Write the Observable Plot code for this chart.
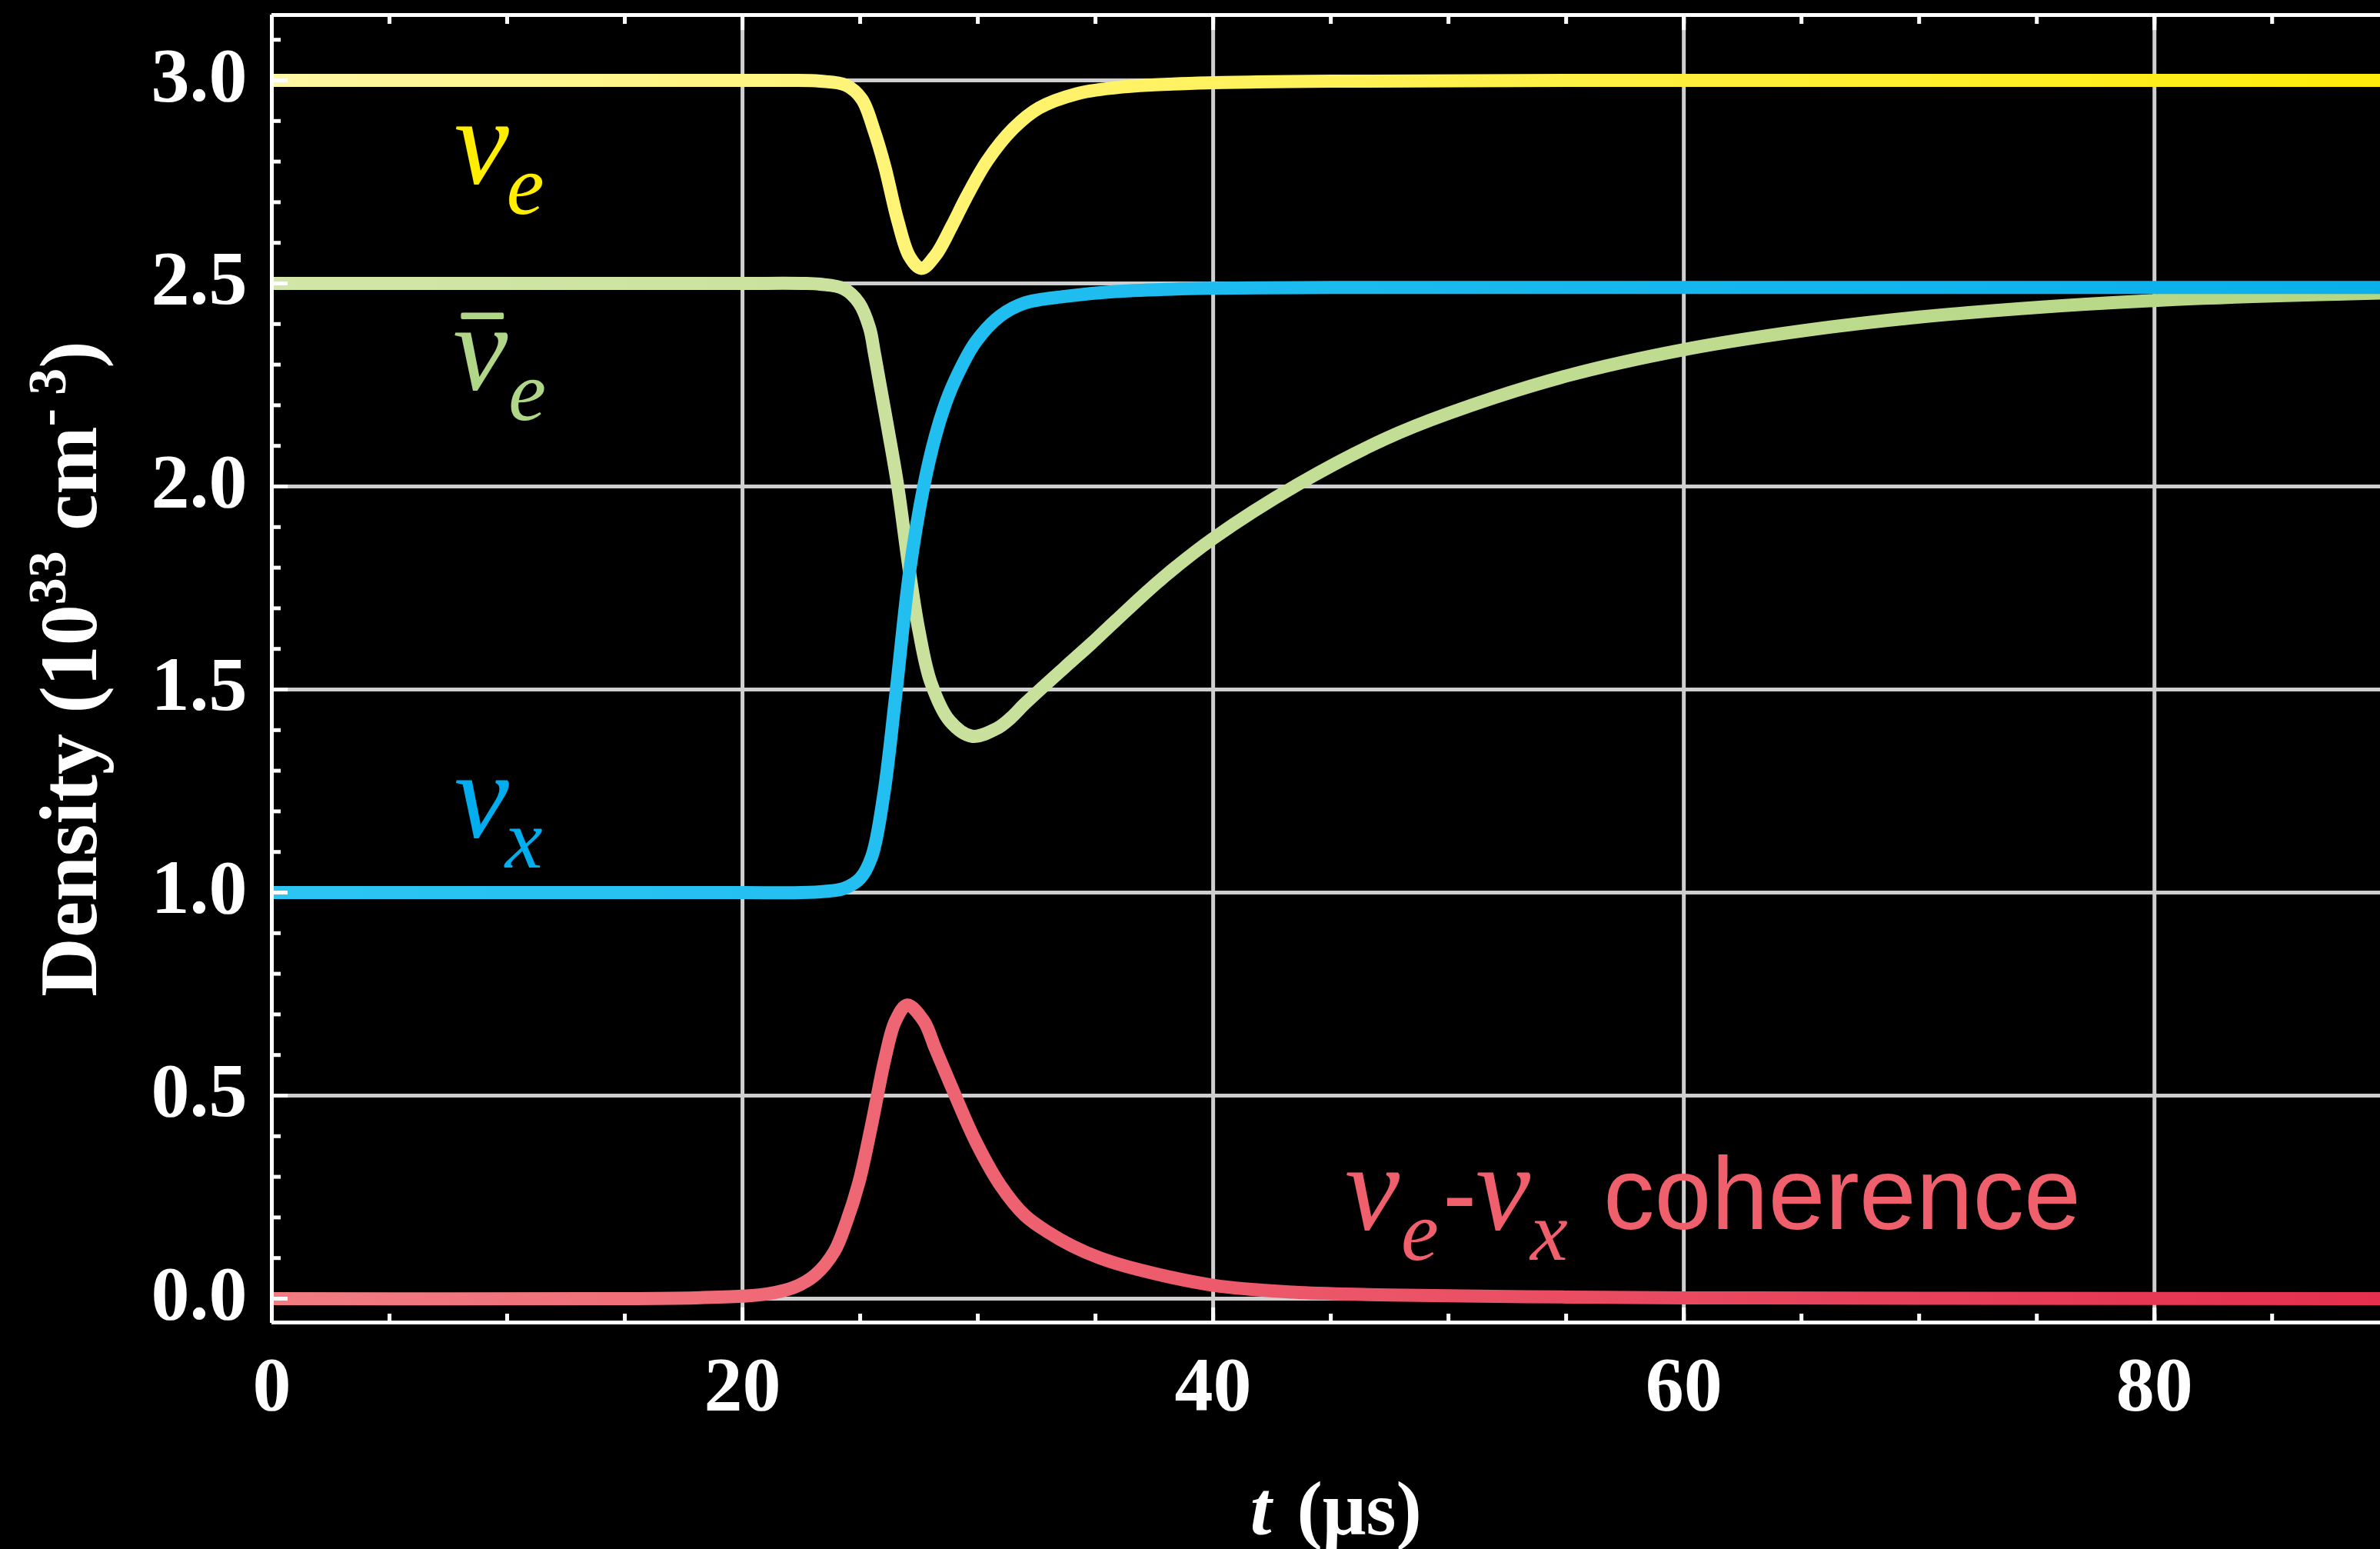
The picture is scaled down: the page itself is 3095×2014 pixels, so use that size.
<!DOCTYPE html>
<html>
<head>
<meta charset="utf-8">
<script src="https://cdn.jsdelivr.net/npm/d3@7"></script>
<script src="https://cdn.jsdelivr.net/npm/@observablehq/plot@0.6"></script>
<style>
  html, body { margin: 0; padding: 0; background: #000; overflow: hidden; }
</style>
</head>
<body>
<div id="chart"></div>
<script>
// ---- data ----
const tNuE = [0, 15, 20, 22, 23.3, 24.4, 25.07, 25.6, 26.05, 26.6, 27.1, 27.6, 28.2, 28.9, 29.5, 30.4, 31.5, 32.6, 34.2, 35.85, 37.5, 39.8, 45, 55, 70, 90];
const nuE  = [3.0, 3.0, 3.0, 3.0, 2.998, 2.988, 2.954, 2.875, 2.787, 2.654, 2.566, 2.537, 2.569, 2.642, 2.711, 2.802, 2.881, 2.932, 2.967, 2.982, 2.989, 2.994, 2.998, 3.0, 3.0, 3.0];

const tNuEbar = [0, 15, 20, 22.5, 23.3, 24.3, 24.95, 25.4, 25.6, 25.8, 26.2, 26.6, 27.1, 27.5, 28.0, 28.8, 29.75, 30.8, 31.4, 32.0, 33.7, 34.8, 35.85, 37.8, 40, 43.6, 47.3, 50, 55, 60, 65, 70, 75, 80, 85, 90];
const nuEbar  = [2.5, 2.5, 2.5, 2.5, 2.498, 2.487, 2.452, 2.39, 2.33, 2.265, 2.136, 2.0, 1.789, 1.644, 1.518, 1.423, 1.385, 1.404, 1.430, 1.465, 1.555, 1.612, 1.669, 1.772, 1.872, 2.005, 2.117, 2.18, 2.272, 2.337, 2.383, 2.417, 2.441, 2.458, 2.469, 2.477];

const tNuX = [0, 15, 20, 22.5, 23.5, 24.3, 25.0, 25.5, 26.0, 26.5, 27.1, 27.7, 28.2, 28.6, 29.0, 29.9, 30.95, 32.0, 33.7, 35.85, 39.8, 45, 55, 70, 90];
const nuX  = [1.0, 1.0, 1.0, 1.0, 1.003, 1.01, 1.035, 1.09, 1.24, 1.48, 1.79, 2.0, 2.125, 2.2, 2.258, 2.355, 2.42, 2.452, 2.468, 2.48, 2.488, 2.49, 2.49, 2.49, 2.49];

const tCoh = [0, 15, 18, 20, 21.1, 22.2, 23.1, 23.9, 24.4, 24.95, 25.5, 26.05, 26.5, 27.0, 27.7, 28.2, 28.8, 29.9, 30.95, 32.0, 33.0, 34.0, 35.2, 36.8, 40, 43.4, 46.6, 50, 55, 60, 70, 90];
const coh  = [0, 0, 0.002, 0.006, 0.012, 0.028, 0.059, 0.116, 0.186, 0.287, 0.432, 0.590, 0.684, 0.723, 0.684, 0.615, 0.533, 0.388, 0.280, 0.205, 0.163, 0.130, 0.100, 0.072, 0.033, 0.016, 0.010, 0.007, 0.004, 0.002, 0.001, 0];

const xTickLabels = [0, 20, 40, 60, 80];
const xGridLines  = [20, 40, 60, 80];
const xMinorTicks = [0, 5, 10, 15, 20, 25, 30, 35, 40, 45, 50, 55, 60, 65, 70, 75, 80, 85];
const yTickLabels = [0, 0.5, 1.0, 1.5, 2.0, 2.5, 3.0];
const yMinorTicks = [0, 0.1, 0.2, 0.3, 0.4, 0.5, 0.6, 0.7, 0.8, 0.9, 1.0, 1.1, 1.2, 1.3, 1.4, 1.5, 1.6, 1.7, 1.8, 1.9, 2.0, 2.1, 2.2, 2.3, 2.4, 2.5, 2.6, 2.7, 2.8, 2.9, 3.0, 3.1];

const xDomain = [0, 89.6];
const yDomain = [-0.0587, 3.161];

// ---- tables ----
const rows = (ts, vs) => ts.map((t, i) => ({t, v: vs[i]}));
const dNuE = rows(tNuE, nuE);
const dNuEbar = rows(tNuEbar, nuEbar);
const dNuX = rows(tNuX, nuX);
const dCoh = rows(tCoh, coh);

const serif = "Liberation Serif";
const sans = "Liberation Sans";
const lineW = 17;
const curve = "catmull-rom";
const gridStyle = {stroke: "#cfcfcf", strokeWidth: 5, strokeOpacity: 1};
const tickStyle = {stroke: "white", strokeWidth: 5, fill: "none", strokeLinecap: "butt"};

const one = [0];
const lbl = (x, y, text, opts) => Plot.text(one, {x: () => x, y: () => y, text: () => text, textAnchor: "start", lineAnchor: "bottom", ...opts});

const nuBig = {fontFamily: serif, fontStyle: "italic", fontWeight: "normal", fontSize: 160};
const subSm = {fontFamily: serif, fontStyle: "italic", fontWeight: "normal", fontSize: 110, dy: 40};
const sansLbl = {fontFamily: sans, fontStyle: "normal", fontWeight: "normal", fontSize: 133};

const cY = "#ffee00", cG = "#b0d688", cB = "#00aeef", cR = "#ef5f6c";

const chart = Plot.plot({
  width: 3095,
  height: 2014,
  marginLeft: 353,
  marginRight: 0,
  marginTop: 19,
  marginBottom: 295,
  style: {background: "black", color: "white", fontFamily: serif, fontSize: "100px", fontWeight: "bold", overflow: "visible"},
  x: {domain: xDomain},
  y: {domain: yDomain},
  marks: [
    // grid
    Plot.ruleX(xGridLines, gridStyle),
    Plot.ruleY(yTickLabels, gridStyle),
    // curves
    Plot.line(dNuEbar, {x: "t", y: "v", curve, stroke: "url(#gG)", strokeWidth: lineW, clip: true}),
    Plot.line(dNuX, {x: "t", y: "v", curve, stroke: "url(#gB)", strokeWidth: lineW, clip: true}),
    Plot.line(dNuE, {x: "t", y: "v", curve, stroke: "url(#gY)", strokeWidth: lineW, clip: true}),
    Plot.line(dCoh, {x: "t", y: "v", curve, stroke: "url(#gR)", strokeWidth: lineW, clip: true}),
    // inward ticks
    Plot.axisX(xMinorTicks, {anchor: "top", frameAnchor: "bottom", tickSize: 12, ...tickStyle}),
    Plot.axisX(xMinorTicks, {anchor: "bottom", frameAnchor: "top", tickSize: 12, ...tickStyle}),
    Plot.axisX(xTickLabels, {anchor: "top", frameAnchor: "bottom", tickSize: 20, ...tickStyle}),
    Plot.axisX(xTickLabels, {anchor: "bottom", frameAnchor: "top", tickSize: 20, ...tickStyle}),
    Plot.axisY(yMinorTicks, {anchor: "right", frameAnchor: "left", tickSize: 11, ...tickStyle}),
    Plot.axisY(yTickLabels, {anchor: "right", frameAnchor: "left", tickSize: 20, ...tickStyle}),
    // tick labels
    Plot.axisX(xTickLabels, {anchor: "bottom", tickSize: 0, tickPadding: 42, label: null, fill: "white", fontSize: 100, fontWeight: "bold", fontFamily: serif, tickFormat: d => String(d)}),
    Plot.axisY(yTickLabels, {anchor: "left", tickSize: 0, tickPadding: 32, label: null, fill: "white", fontSize: 100, fontWeight: "bold", fontFamily: serif, tickFormat: d => d.toFixed(1), dy: -6}),
    // frame (left, top, bottom)
    Plot.ruleX([xDomain[0]], {stroke: "white", strokeWidth: 5}),
    Plot.ruleY([yDomain[0], yDomain[1]], {stroke: "white", strokeWidth: 5}),
    // axis labels
    Plot.text(one, {frameAnchor: "left", text: () => "Density (10³³ cm⁻³)", rotate: -90, dx: -262, fill: "white", fontSize: 106, fontWeight: "bold", fontFamily: serif, lineAnchor: "middle", textAnchor: "middle"}),
    Plot.text(one, {frameAnchor: "bottom", text: () => "t", dx: -71, dy: 275, lineAnchor: "bottom", textAnchor: "end", fill: "white", fontSize: 100, fontWeight: "bold", fontStyle: "italic", fontFamily: serif}),
    Plot.text(one, {frameAnchor: "bottom", text: () => "(μs)", dx: -38, dy: 275, lineAnchor: "bottom", textAnchor: "start", fill: "white", fontSize: 100, fontWeight: "bold", fontFamily: serif}),
    // series labels
    lbl(7.75, 2.748, "ν", {...nuBig, fill: cY}),
    lbl(7.75, 2.748, "e", {...subSm, fill: cY, dx: 68}),
    lbl(7.7, 2.240, "¯", {fontFamily: serif, fontStyle: "normal", fontWeight: "normal", fontSize: 100, fill: cG, stroke: cG, strokeWidth: 4, dx: 38, dy: -22, textAnchor: "middle"}),
    lbl(7.7, 2.240, "ν", {...nuBig, fill: cG}),
    lbl(7.7, 2.240, "e", {...subSm, fill: cG, dx: 72}),
    lbl(7.75, 1.138, "ν", {...nuBig, fill: cB}),
    lbl(7.75, 1.138, "x", {...subSm, fill: cB, dx: 66}),
    lbl(45.6, 0.172, "ν", {...nuBig, fill: cR}),
    lbl(45.6, 0.172, "e", {...subSm, fill: cR, dx: 73}),
    lbl(45.6, 0.172, "-", {...sansLbl, fill: cR, dx: 127}),
    lbl(45.6, 0.172, "ν", {...nuBig, fill: cR, dx: 170}),
    lbl(45.6, 0.172, "x", {...subSm, fill: cR, dx: 241}),
    lbl(45.6, 0.172, "coherence", {...sansLbl, fill: cR, dx: 336})
  ]
});

const NS = "http://www.w3.org/2000/svg";
const svg = chart.tagName.toLowerCase() === "svg" ? chart : chart.querySelector("svg");

// gradient definitions for the line strokes (colour varies along t)
const defs = document.createElementNS(NS, "defs");
const grads = {gY: ["#fff7a3", "#ffec0a"], gG: ["#d2e6a8", "#b5d683"], gB: ["#2cc5f3", "#0aafea"], gR: ["#f27c82", "#e52f4f"]};
for (const [id, [c0, c1]] of Object.entries(grads)) {
  const g = document.createElementNS(NS, "linearGradient");
  g.setAttribute("id", id);
  g.setAttribute("x1", "0"); g.setAttribute("x2", "1"); g.setAttribute("y1", "0"); g.setAttribute("y2", "0");
  for (const [o, c] of [["0", c0], ["1", c1]]) {
    const s = document.createElementNS(NS, "stop");
    s.setAttribute("offset", o); s.setAttribute("stop-color", c);
    g.appendChild(s);
  }
  defs.appendChild(g);
}
svg.insertBefore(defs, svg.firstChild);

// real superscripts in the y-axis title
for (const t of svg.querySelectorAll("text")) {
  if (t.textContent.startsWith("Density")) {
    t.textContent = "";
    const parts = [
      ["Density (10", null, 0],
      ["33", "70", -40],
      [" cm", null, 40],
      ["-", "70", -40],
      [" 3", "70", 0],
      [")", null, 40]
    ];
    for (const [s, fs, dy] of parts) {
      const sp = document.createElementNS(NS, "tspan");
      sp.textContent = s;
      if (fs) sp.setAttribute("font-size", fs);
      if (dy) sp.setAttribute("dy", dy);
      t.appendChild(sp);
    }
  }
}

document.getElementById("chart").appendChild(chart);
</script>
</body>
</html>
